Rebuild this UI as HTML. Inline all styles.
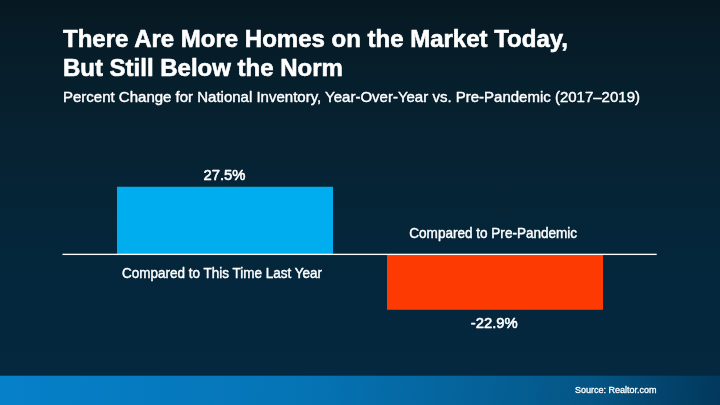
<!DOCTYPE html>
<html><head><meta charset="utf-8">
<style>
html,body{margin:0;padding:0;}
body{width:720px;height:405px;overflow:hidden;position:relative;font-family:"Liberation Sans",Arial,sans-serif;color:#fff;
background:linear-gradient(180deg,#061922 0px,#061d29 50px,#07202e 100px,#052537 205px,#04273e 300px,#04283f 375px,#04283f 405px);}
svg{position:absolute;left:0;top:0;}
#foot{position:absolute;left:0;top:376px;width:720px;height:29px;background:linear-gradient(94deg,#0680ca 0%,#0574b5 42%,#056299 66%,#045483 83%,#03446d 92%,#02385c 100%);}
#foot2{position:absolute;left:0;top:375px;width:720px;height:1px;opacity:.3;background:linear-gradient(94deg,#0680ca 0%,#0574b5 42%,#056299 66%,#045483 83%,#03446d 92%,#02385c 100%);}
</style></head><body>
<div id="foot2"></div><div id="foot"></div>
<svg width="720" height="405" viewBox="0 0 720 405">
<rect x="117" y="186.75" width="216" height="67.45" fill="#00adee"/>
<rect x="387" y="254.5" width="216" height="55.3" fill="#fd3a01"/>
<rect x="62.5" y="253.7" width="594.2" height="1.35" fill="#fff"/>
<g font-family="'Liberation Sans',Arial,sans-serif" fill="#fff" stroke="#fff" stroke-width="0.5" stroke-linejoin="round">
<text id="t1" x="63" y="46.8" font-size="24" font-weight="bold" stroke-width="0.6">There Are More Homes on the Market Today,</text>
<text id="t2" x="62.9" y="75.5" font-size="24" font-weight="bold" stroke-width="0.6">But Still Below the Norm</text>
<text id="sub" x="63" y="101.85" font-size="15" stroke-width="0.42">Percent Change for National Inventory, Year-Over-Year vs. Pre-Pandemic (2017–2019)</text>
<text id="v1" stroke-width="0.55" transform="translate(203.5,180.1) scale(1,1.04)" font-size="14.85">27.5%</text>
<text id="v2" stroke-width="0.55" transform="translate(470.7,328.2) scale(1,1.04)" font-size="14.85">-22.9%</text>
<text id="l1" stroke-width="0.42" transform="translate(121.9,278) scale(1,1.1)" font-size="13.5">Compared to This Time Last Year</text>
<text id="l2" stroke-width="0.42" transform="translate(409.3,237.8) scale(1,1.1)" font-size="13.55">Compared to Pre-Pandemic</text>
<text id="src" x="656.6" y="393.3" text-anchor="end" font-size="9" stroke-width="0.3">Source: Realtor.com</text>
</g>
</svg>
</body></html>
